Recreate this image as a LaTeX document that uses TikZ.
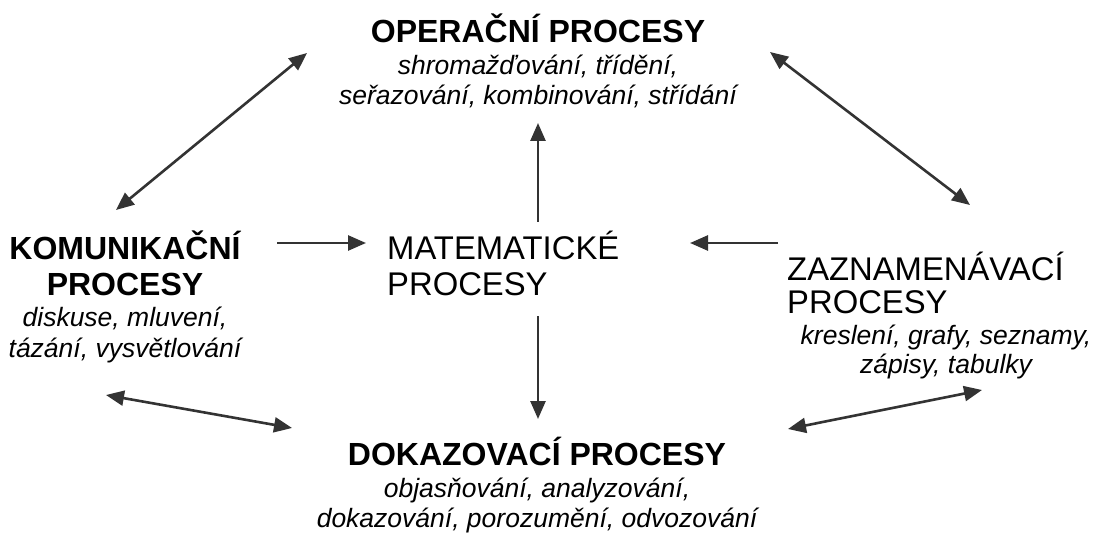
\documentclass[tikz,border=0pt]{standalone}
\usepackage{fontspec}
\setmainfont{Liberation Sans}
\usetikzlibrary{arrows.meta}
\definecolor{arrowgray}{HTML}{333333}
\tikzset{
  ttl/.style={font=\fontsize{32}{36}\selectfont\bfseries, anchor=base, inner sep=0pt},
  plain/.style={font=\fontsize{32.8}{36}\selectfont, anchor=base west, inner sep=0pt},
  desc/.style={font=\fontsize{26.5}{30}\selectfont\itshape, anchor=base, inner sep=0pt},
  conn/.style={draw=arrowgray, line width=2.6pt, -{Triangle[length=18pt,width=15pt]}},
  bconn/.style={draw=arrowgray, line width=2.6pt, {Triangle[length=18pt,width=15pt]}-{Triangle[length=18pt,width=15pt]}}
}
\begin{document}
\begin{tikzpicture}[x=1pt,y=-1pt]
\useasboundingbox (0,0) rectangle (1099,534);
% top block
\node[ttl] (opT) at (538,43) {OPERAČNÍ PROCESY};
\node[desc] (opD1) at (538,75) {shromažďování, třídění,};
\node[desc] (opD2) at (538,105) {seřazování, kombinování, střídání};
% left block
\node[ttl] (koT1) at (125,260) {KOMUNIKAČNÍ};
\node[ttl] (koT2) at (125,295) {PROCESY};
\node[desc] (koD1) at (125,326) {diskuse, mluvení,};
\node[desc] (koD2) at (125,357) {tázání, vysvětlování};
% centre
\node[plain] (maT1) at (387,260) {MATEMATICKÉ};
\node[plain] (maT2) at (387,295) {PROCESY};
% right block
\node[plain] (zaT1) at (787,281) {ZAZNAMENÁVACÍ};
\node[plain] (zaT2) at (787,313) {PROCESY};
\node[desc] (zaD1) at (946,344) {kreslení, grafy, seznamy,};
\node[desc] (zaD2) at (946,373) {zápisy, tabulky};
% bottom block
\node[ttl] (doT) at (537,465) {DOKAZOVACÍ PROCESY};
\node[desc] (doD1) at (537,497) {objasňování, analyzování,};
\node[desc] (doD2) at (537,527) {dokazování, porozumění, odvozování};
% connector ends
\coordinate (kmA) at (277,243);
\coordinate (kmB) at (366,243);
\coordinate (zmA) at (778,243);
\coordinate (zmB) at (690,243);
\coordinate (moA) at (538,222);
\coordinate (moB) at (538,123);
\coordinate (mdA) at (538,316);
\coordinate (mdB) at (538,419);
\coordinate (okA) at (307,53);
\coordinate (okB) at (116,210);
\coordinate (ozA) at (770,52);
\coordinate (ozB) at (970,205);
\coordinate (kdA) at (106,395);
\coordinate (kdB) at (292,428);
\coordinate (zdA) at (982,390);
\coordinate (zdB) at (788,429);
% connectors
\draw[conn] (kmA) -- (kmB);
\draw[conn] (zmA) -- (zmB);
\draw[conn] (moA) -- (moB);
\draw[conn] (mdA) -- (mdB);
\draw[bconn] (okB) -- (okA);
\draw[bconn] (ozA) -- (ozB);
\draw[bconn] (kdA) -- (kdB);
\draw[bconn] (zdB) -- (zdA);
\end{tikzpicture}
\end{document}
